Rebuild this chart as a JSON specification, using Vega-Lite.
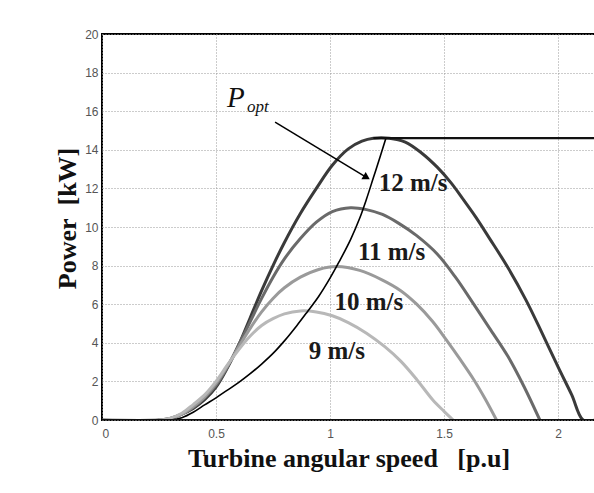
{
  "$schema": "https://vega.github.io/schema/vega-lite/v6.json",
  "width": 493,
  "height": 386,
  "autosize": "none",
  "padding": {"left": 102, "top": 34, "right": 0, "bottom": 73},
  "background": "white",
  "config": {
    "view": {"stroke": "#000", "strokeWidth": 2},
    "axis": {
      "labelFont": "Liberation Sans",
      "labelFontSize": 12,
      "labelColor": "#555",
      "labelOverlap": false,
      "titleFont": "Liberation Serif",
      "titleFontWeight": "bold",
      "titleFontSize": 26,
      "titleColor": "#111",
      "domain": false,
      "ticks": false,
      "grid": true,
      "gridColor": "#999",
      "gridDash": [1, 2],
      "gridWidth": 1
    }
  },
  "datasets": {
    "curves": [
      {"series": "12 m/s", "x": 0, "y": 0}, {"series": "12 m/s", "x": 0.25, "y": 0}, {"series": "12 m/s", "x": 0.3, "y": 0.08}, {"series": "12 m/s", "x": 0.35, "y": 0.3}, {"series": "12 m/s", "x": 0.4, "y": 0.6}, {"series": "12 m/s", "x": 0.45, "y": 1.05}, {"series": "12 m/s", "x": 0.5, "y": 1.7}, {"series": "12 m/s", "x": 0.55, "y": 2.7}, {"series": "12 m/s", "x": 0.6, "y": 3.9}, {"series": "12 m/s", "x": 0.65, "y": 5.3}, {"series": "12 m/s", "x": 0.7, "y": 6.7}, {"series": "12 m/s", "x": 0.75, "y": 8.0}, {"series": "12 m/s", "x": 0.8, "y": 9.2}, {"series": "12 m/s", "x": 0.87, "y": 10.7}, {"series": "12 m/s", "x": 0.94, "y": 12.0}, {"series": "12 m/s", "x": 1.01, "y": 13.2}, {"series": "12 m/s", "x": 1.08, "y": 14.05}, {"series": "12 m/s", "x": 1.14, "y": 14.45}, {"series": "12 m/s", "x": 1.19, "y": 14.6}, {"series": "12 m/s", "x": 1.26, "y": 14.6}, {"series": "12 m/s", "x": 1.33, "y": 14.4}, {"series": "12 m/s", "x": 1.4, "y": 13.85}, {"series": "12 m/s", "x": 1.47, "y": 13.1}, {"series": "12 m/s", "x": 1.53, "y": 12.3}, {"series": "12 m/s", "x": 1.58, "y": 11.5}, {"series": "12 m/s", "x": 1.64, "y": 10.5}, {"series": "12 m/s", "x": 1.7, "y": 9.4}, {"series": "12 m/s", "x": 1.78, "y": 7.9}, {"series": "12 m/s", "x": 1.86, "y": 6.2}, {"series": "12 m/s", "x": 1.93, "y": 4.5}, {"series": "12 m/s", "x": 2.0, "y": 2.75}, {"series": "12 m/s", "x": 2.06, "y": 1.3}, {"series": "12 m/s", "x": 2.11, "y": 0}, {"series": "12 m/s", "x": 2.162, "y": 0},
      {"series": "11 m/s", "x": 0.25, "y": 0}, {"series": "11 m/s", "x": 0.3, "y": 0.08}, {"series": "11 m/s", "x": 0.35, "y": 0.3}, {"series": "11 m/s", "x": 0.4, "y": 0.65}, {"series": "11 m/s", "x": 0.45, "y": 1.15}, {"series": "11 m/s", "x": 0.5, "y": 1.8}, {"series": "11 m/s", "x": 0.55, "y": 2.75}, {"series": "11 m/s", "x": 0.6, "y": 3.9}, {"series": "11 m/s", "x": 0.65, "y": 5.1}, {"series": "11 m/s", "x": 0.7, "y": 6.3}, {"series": "11 m/s", "x": 0.75, "y": 7.4}, {"series": "11 m/s", "x": 0.8, "y": 8.35}, {"series": "11 m/s", "x": 0.87, "y": 9.4}, {"series": "11 m/s", "x": 0.94, "y": 10.25}, {"series": "11 m/s", "x": 1.01, "y": 10.8}, {"series": "11 m/s", "x": 1.09, "y": 11.0}, {"series": "11 m/s", "x": 1.16, "y": 10.9}, {"series": "11 m/s", "x": 1.23, "y": 10.65}, {"series": "11 m/s", "x": 1.3, "y": 10.2}, {"series": "11 m/s", "x": 1.38, "y": 9.55}, {"series": "11 m/s", "x": 1.47, "y": 8.6}, {"series": "11 m/s", "x": 1.55, "y": 7.4}, {"series": "11 m/s", "x": 1.63, "y": 6.0}, {"series": "11 m/s", "x": 1.7, "y": 4.75}, {"series": "11 m/s", "x": 1.78, "y": 3.3}, {"series": "11 m/s", "x": 1.85, "y": 1.75}, {"series": "11 m/s", "x": 1.92, "y": 0},
      {"series": "10 m/s", "x": 0.25, "y": 0}, {"series": "10 m/s", "x": 0.3, "y": 0.08}, {"series": "10 m/s", "x": 0.35, "y": 0.3}, {"series": "10 m/s", "x": 0.4, "y": 0.7}, {"series": "10 m/s", "x": 0.45, "y": 1.2}, {"series": "10 m/s", "x": 0.5, "y": 1.9}, {"series": "10 m/s", "x": 0.55, "y": 2.8}, {"series": "10 m/s", "x": 0.6, "y": 3.8}, {"series": "10 m/s", "x": 0.65, "y": 4.75}, {"series": "10 m/s", "x": 0.7, "y": 5.6}, {"series": "10 m/s", "x": 0.75, "y": 6.3}, {"series": "10 m/s", "x": 0.8, "y": 6.85}, {"series": "10 m/s", "x": 0.87, "y": 7.4}, {"series": "10 m/s", "x": 0.95, "y": 7.8}, {"series": "10 m/s", "x": 1.03, "y": 7.95}, {"series": "10 m/s", "x": 1.13, "y": 7.75}, {"series": "10 m/s", "x": 1.23, "y": 7.25}, {"series": "10 m/s", "x": 1.31, "y": 6.7}, {"series": "10 m/s", "x": 1.38, "y": 6.0}, {"series": "10 m/s", "x": 1.45, "y": 5.1}, {"series": "10 m/s", "x": 1.51, "y": 4.15}, {"series": "10 m/s", "x": 1.57, "y": 3.15}, {"series": "10 m/s", "x": 1.63, "y": 2.1}, {"series": "10 m/s", "x": 1.68, "y": 1.1}, {"series": "10 m/s", "x": 1.73, "y": 0},
      {"series": "9 m/s", "x": 0.25, "y": 0}, {"series": "9 m/s", "x": 0.3, "y": 0.1}, {"series": "9 m/s", "x": 0.35, "y": 0.35}, {"series": "9 m/s", "x": 0.4, "y": 0.8}, {"series": "9 m/s", "x": 0.45, "y": 1.3}, {"series": "9 m/s", "x": 0.5, "y": 2.0}, {"series": "9 m/s", "x": 0.55, "y": 2.85}, {"series": "9 m/s", "x": 0.6, "y": 3.65}, {"series": "9 m/s", "x": 0.65, "y": 4.35}, {"series": "9 m/s", "x": 0.7, "y": 4.9}, {"series": "9 m/s", "x": 0.75, "y": 5.25}, {"series": "9 m/s", "x": 0.8, "y": 5.5}, {"series": "9 m/s", "x": 0.87, "y": 5.65}, {"series": "9 m/s", "x": 0.94, "y": 5.6}, {"series": "9 m/s", "x": 1.01, "y": 5.4}, {"series": "9 m/s", "x": 1.08, "y": 5.05}, {"series": "9 m/s", "x": 1.16, "y": 4.5}, {"series": "9 m/s", "x": 1.24, "y": 3.8}, {"series": "9 m/s", "x": 1.31, "y": 3.05}, {"series": "9 m/s", "x": 1.38, "y": 2.1}, {"series": "9 m/s", "x": 1.45, "y": 1.05}, {"series": "9 m/s", "x": 1.5, "y": 0.45}, {"series": "9 m/s", "x": 1.54, "y": 0}
    ],
    "popt": [
      {"x": 0.3, "y": 0}, {"x": 0.35, "y": 0.12}, {"x": 0.4, "y": 0.4}, {"x": 0.45, "y": 0.78}, {"x": 0.5, "y": 1.15}, {"x": 0.55, "y": 1.55}, {"x": 0.6, "y": 1.95}, {"x": 0.65, "y": 2.4}, {"x": 0.7, "y": 2.9}, {"x": 0.75, "y": 3.45}, {"x": 0.8, "y": 4.1}, {"x": 0.855, "y": 4.9}, {"x": 0.9, "y": 5.6}, {"x": 0.95, "y": 6.4}, {"x": 1.0, "y": 7.35}, {"x": 1.04, "y": 8.2}, {"x": 1.09, "y": 9.35}, {"x": 1.13, "y": 10.45}, {"x": 1.16, "y": 11.45}, {"x": 1.19, "y": 12.55}, {"x": 1.22, "y": 13.65}, {"x": 1.245, "y": 14.6}
    ],
    "limits": [
      {"series": "rated", "x": 1.19, "y": 14.6}, {"series": "rated", "x": 2.162, "y": 14.6},
      {"series": "base", "x": 0, "y": 0}, {"series": "base", "x": 2.162, "y": 0}
    ],
    "labels": [
      {"text": "12 m/s", "x": 1.364, "y": 12.3},
      {"text": "11 m/s", "x": 1.27, "y": 8.7},
      {"text": "10 m/s", "x": 1.17, "y": 6.1},
      {"text": "9 m/s", "x": 1.03, "y": 3.6}
    ],
    "arrow": [
      {"x": 0.759, "y": 15.43, "x2": 1.156, "y2": 12.6}
    ],
    "popttext": [
      {"text": "P", "x": 0.548, "y": 16.2, "kind": "main"},
      {"text": "opt", "x": 0.636, "y": 15.95, "kind": "sub"}
    ]
  },
  "encoding": {
    "x": {
      "field": "x", "type": "quantitative",
      "scale": {"domain": [0, 2.162], "nice": false, "zero": false},
      "axis": {
        "title": "Turbine angular speed\u00a0\u00a0\u00a0[p.u]",
        "values": [0, 0.5, 1, 1.5, 2],
        "tickCount": 20,
        "labelExpr": "'' + datum.value",
        "labelPadding": 8,
        "titlePadding": 6
      }
    },
    "y": {
      "field": "y", "type": "quantitative",
      "scale": {"domain": [0, 20], "nice": false},
      "axis": {
        "title": "Power\u00a0\u00a0[kW]",
        "values": [0, 2, 4, 6, 8, 10, 12, 14, 16, 18, 20],
        "tickCount": 30,
        "labelExpr": "'' + datum.value",
        "labelPadding": 4,
        "titlePadding": 4,
        "titleY": 184
      }
    }
  },
  "layer": [
    {
      "data": {"name": "curves"},
      "mark": {"type": "line", "clip": true, "interpolate": "catmull-rom"},
      "encoding": {
        "color": {
          "field": "series", "type": "nominal",
          "scale": {"domain": ["9 m/s", "10 m/s", "11 m/s", "12 m/s"], "range": ["#b8b8b8", "#9a9a9a", "#6a6a6a", "#3a3a3a"]},
          "legend": null
        },
        "strokeWidth": {
          "field": "series", "type": "nominal",
          "scale": {"domain": ["9 m/s", "10 m/s", "11 m/s", "12 m/s"], "range": [3, 3, 3, 3.2]},
          "legend": null
        }
      }
    },
    {
      "data": {"name": "popt"},
      "mark": {"type": "line", "color": "#000", "strokeWidth": 1.6, "interpolate": "catmull-rom", "clip": true},
      "encoding": {}
    },
    {
      "data": {"name": "limits"},
      "mark": {"type": "line", "color": "#111", "strokeWidth": 2.2, "clip": true},
      "encoding": {
        "detail": {"field": "series", "type": "nominal"}
      }
    },
    {
      "data": {"name": "arrow"},
      "mark": {"type": "rule", "color": "#000", "strokeWidth": 1.5},
      "encoding": {
        "x2": {"field": "x2"},
        "y2": {"field": "y2"}
      }
    },
    {
      "data": {"name": "arrow"},
      "mark": {"type": "point", "shape": "triangle", "filled": true, "color": "#000", "size": 70, "angle": 121, "opacity": 1},
      "encoding": {
        "x": {"field": "x2", "type": "quantitative"},
        "y": {"field": "y2", "type": "quantitative"}
      }
    },
    {
      "data": {"name": "labels"},
      "mark": {"type": "text", "font": "Liberation Serif", "fontWeight": "bold", "fontSize": 25, "align": "center", "baseline": "middle", "color": "#1a1a1a"},
      "encoding": {
        "text": {"field": "text"}
      }
    },
    {
      "data": {"name": "popttext"},
      "transform": [{"filter": "datum.kind === 'main'"}],
      "mark": {"type": "text", "font": "Liberation Serif", "fontStyle": "italic", "fontSize": 29, "align": "left", "baseline": "alphabetic", "color": "#111"},
      "encoding": {
        "text": {"field": "text"}
      }
    },
    {
      "data": {"name": "popttext"},
      "transform": [{"filter": "datum.kind === 'sub'"}],
      "mark": {"type": "text", "font": "Liberation Serif", "fontStyle": "italic", "fontSize": 17, "align": "left", "baseline": "alphabetic", "color": "#111"},
      "encoding": {
        "text": {"field": "text"}
      }
    }
  ]
}
